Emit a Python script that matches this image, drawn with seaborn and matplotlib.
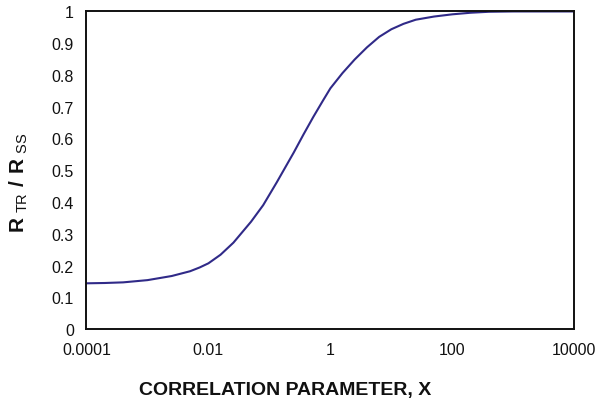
import matplotlib
matplotlib.use("Agg")
import matplotlib.pyplot as plt
import seaborn as sns
import pandas as pd

# curve values (x on log scale)
x_vals = [1e-4, 2e-4, 4e-4, 1e-3, 2.5e-3, 5e-3, 7.2e-3, 1e-2, 0.0158,
          0.0257, 0.05, 0.079, 0.132, 0.251, 0.363, 0.525, 0.759, 1.0,
          1.58, 2.51, 3.98, 6.31, 10, 15.8, 25.1, 50.1, 100, 200, 398,
          1000, 10000]
ratio = [0.144, 0.145, 0.147, 0.154, 0.167, 0.182, 0.194, 0.207, 0.234,
         0.272, 0.338, 0.390, 0.462, 0.556, 0.613, 0.668, 0.720, 0.758,
         0.806, 0.849, 0.887, 0.920, 0.944, 0.961, 0.974, 0.984, 0.991,
         0.996, 0.999, 1.0, 1.0]
x_ticks = [1e-4, 1e-2, 1, 100, 10000]
x_tick_labels = ["0.0001", "0.01", "1", "100", "10000"]
y_ticks = [0, 0.1, 0.2, 0.3, 0.4, 0.5, 0.6, 0.7, 0.8, 0.9, 1]
y_tick_labels = ["0", "0.1", "0.2", "0.3", "0.4", "0.5", "0.6", "0.7", "0.8", "0.9", "1"]

df = pd.DataFrame({"x": x_vals, "ratio": ratio})

sns.set_style("white")
plt.rcParams["font.family"] = ["Liberation Sans", "DejaVu Sans"]
plt.rcParams["mathtext.fontset"] = "custom"
plt.rcParams["mathtext.rm"] = "Liberation Sans"
plt.rcParams["mathtext.bf"] = "Liberation Sans:bold"

fig = plt.figure(figsize=(6.09, 4.02), dpi=100)
ax = fig.add_axes([0.142, 0.179, 0.801, 0.790])
sns.lineplot(data=df, x="x", y="ratio", ax=ax, color="#302a88", linewidth=1.5)
ax.set_xscale("log")
ax.set_xlim(1e-4, 1e4)
ax.set_ylim(0, 1)
ax.set_xticks(x_ticks)
ax.set_xticklabels(x_tick_labels)
ax.set_yticks(y_ticks)
ax.set_yticklabels(y_tick_labels)
ax.minorticks_off()
ax.tick_params(direction="out", length=5, width=1, labelsize=11.5,
               colors="#333333", labelcolor="#111111", pad=4)
for s in ax.spines.values():
    s.set_color("#111111")
    s.set_linewidth(1.4)

ax.set_xlabel("CORRELATION PARAMETER, X", fontsize=14, fontweight="bold",
              color="#111111")
ax.xaxis.set_label_coords(0.408, -0.163)
ax.set_ylabel(r"$\mathbf{R}_{\ \mathrm{TR}}\ \mathbf{/}\ \mathbf{R}_{\ \mathrm{SS}}$",
              fontsize=15, color="#111111")
ax.yaxis.set_label_coords(-0.116, 0.463)

fig.savefig("out.png", dpi=100)
